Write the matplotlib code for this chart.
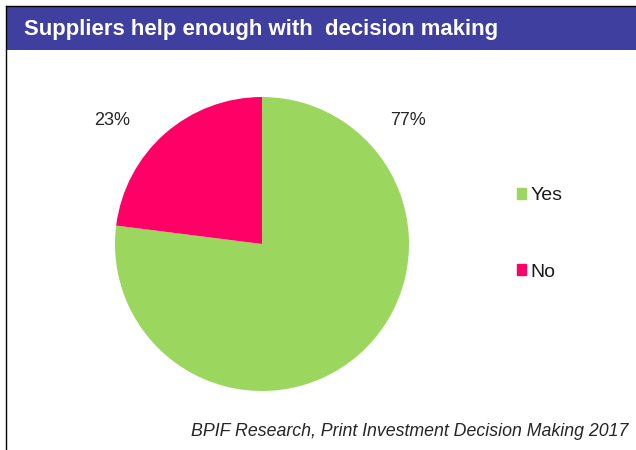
import matplotlib.pyplot as plt
from matplotlib.patches import Rectangle, Patch

labels = ['Yes', 'No']
values = [77, 23]
colors = ['#9bd65f', '#ff0066']
title = 'Suppliers help enough with  decision making'
source = 'BPIF Research, Print Investment Decision Making 2017'

plt.rcParams['font.family'] = ['Liberation Sans', 'DejaVu Sans']

W, H = 636, 450
fig = plt.figure(figsize=(W / 100, H / 100), dpi=100)

# frame lines and title bar
fig.add_artist(plt.Line2D([6 / W, 6 / W], [0, 1 - 6 / H], color='black', lw=1.0))
fig.add_artist(plt.Line2D([6 / W, 1], [1 - 6 / H, 1 - 6 / H], color='black', lw=1.0))
fig.add_artist(Rectangle((7 / W, 1 - 50 / H), 1, 44 / H, color='#3f3f9f', lw=0))
fig.text(24 / W, 1 - 29 / H, title, color='white', fontsize=15.9, fontweight='bold', va='center')

# pie
cx, cy, r = 262, 244, 147
ax = fig.add_axes([(cx - r) / W, (H - cy - r) / H, 2 * r / W, 2 * r / H])
ax.pie(values, colors=colors, startangle=90, counterclock=False, radius=1)
ax.set_xlim(-1, 1)
ax.set_ylim(-1, 1)
ax.set_aspect('equal')
ax.axis('off')

ax.text(0.99, 0.84, f'{values[0]}%', fontsize=13, color='#262626', ha='center', va='center')
ax.text(-1.02, 0.84, f'{values[1]}%', fontsize=13, color='#262626', ha='center', va='center')

handles = [Patch(color=c, label=l) for c, l in zip(colors, labels)]
fig.legend(handles=handles, loc='center left', bbox_to_anchor=(499 / W, 1 - 234 / H),
           frameon=False, fontsize=14, handlelength=0.5, handleheight=0.5,
           handletextpad=0.2, labelspacing=3.05, labelcolor='#1a1a1a')

fig.text(628 / W, 1 - 432 / H, source, fontsize=12.8, style='italic', ha='right',
         va='center', color='#262626')

fig.savefig('out.png', dpi=100)
